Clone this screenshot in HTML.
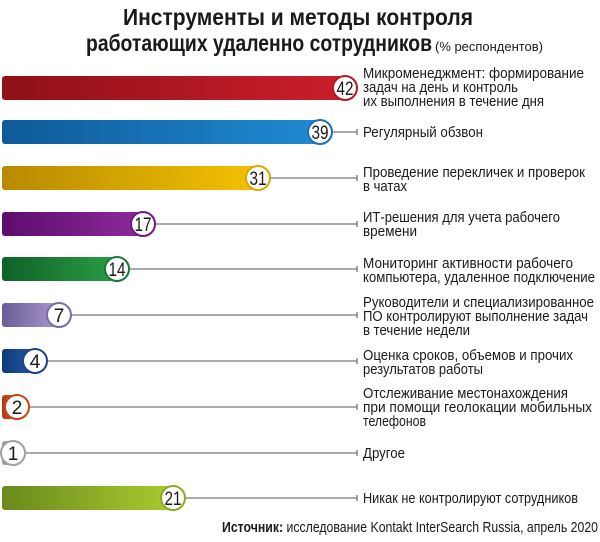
<!DOCTYPE html>
<html><head><meta charset="utf-8"><style>
html,body{margin:0;padding:0;background:#fff;}
svg{display:block;}
text{font-family:"Liberation Sans Narrow","Liberation Sans","DejaVu Sans Condensed",sans-serif;fill:#1a1a1a;}
.t{font-weight:bold;font-size:23px;}
.l{font-size:15px;}
.n{font-size:19px;text-anchor:middle;}
</style></head><body>
<svg width="600" height="542" viewBox="0 0 600 542" xmlns="http://www.w3.org/2000/svg">
<defs>
<linearGradient id="g1"><stop offset="0" stop-color="#8e1018"/><stop offset="1" stop-color="#cc1e2a"/></linearGradient>
<linearGradient id="g2"><stop offset="0" stop-color="#0f5a98"/><stop offset="1" stop-color="#1f8ad2"/></linearGradient>
<linearGradient id="g3"><stop offset="0" stop-color="#b88a00"/><stop offset="1" stop-color="#f2c200"/></linearGradient>
<linearGradient id="g4"><stop offset="0" stop-color="#5e0c6e"/><stop offset="1" stop-color="#8c2a9a"/></linearGradient>
<linearGradient id="g5"><stop offset="0" stop-color="#0e6228"/><stop offset="1" stop-color="#2b9c44"/></linearGradient>
<linearGradient id="g6"><stop offset="0" stop-color="#6a5c98"/><stop offset="1" stop-color="#a898cc"/></linearGradient>
<linearGradient id="g7"><stop offset="0" stop-color="#0e3a7a"/><stop offset="1" stop-color="#2458a8"/></linearGradient>
<linearGradient id="g8"><stop offset="0" stop-color="#b83810"/><stop offset="1" stop-color="#e05020"/></linearGradient>
<linearGradient id="g9"><stop offset="0" stop-color="#909090"/><stop offset="1" stop-color="#c8c8c8"/></linearGradient>
<linearGradient id="g10"><stop offset="0" stop-color="#6a8a1c"/><stop offset="1" stop-color="#aacb30"/></linearGradient>
</defs>

<text class="t" x="123" y="25" textLength="350" lengthAdjust="spacingAndGlyphs">Инструменты и методы контроля</text>
<text class="t" x="86" y="51" textLength="346" lengthAdjust="spacingAndGlyphs">работающих удаленно сотрудников</text>
<text x="435" y="51" style="font-size:13px" textLength="108" lengthAdjust="spacingAndGlyphs">(% респондентов)</text>

<g stroke="#777" stroke-width="1.3">
<line x1="332" y1="132" x2="357" y2="132"/><line x1="357" y1="129" x2="357" y2="135"/>
<line x1="270" y1="178" x2="357" y2="178"/><line x1="357" y1="175" x2="357" y2="181"/>
<line x1="155" y1="224" x2="357" y2="224"/><line x1="357" y1="221" x2="357" y2="227"/>
<line x1="129" y1="269" x2="357" y2="269"/><line x1="357" y1="266" x2="357" y2="272"/>
<line x1="71" y1="315" x2="357" y2="315"/><line x1="357" y1="312" x2="357" y2="318"/>
<line x1="47" y1="361" x2="357" y2="361"/><line x1="357" y1="358" x2="357" y2="364"/>
<line x1="29" y1="407" x2="357" y2="407"/><line x1="357" y1="404" x2="357" y2="410"/>
<line x1="25" y1="453" x2="357" y2="453"/><line x1="357" y1="450" x2="357" y2="456"/>
<line x1="185" y1="498" x2="357" y2="498"/><line x1="357" y1="495" x2="357" y2="501"/>
</g>

<rect x="2" y="76" width="343" height="24" rx="3" fill="url(#g1)"/>
<rect x="2" y="120" width="318" height="24" rx="3" fill="url(#g2)"/>
<rect x="2" y="166" width="256" height="24" rx="3" fill="url(#g3)"/>
<rect x="2" y="212" width="141" height="24" rx="3" fill="url(#g4)"/>
<rect x="2" y="257" width="115" height="24" rx="3" fill="url(#g5)"/>
<rect x="2" y="303" width="57" height="24" rx="3" fill="url(#g6)"/>
<rect x="2" y="349" width="33" height="24" rx="3" fill="url(#g7)"/>
<rect x="2" y="395" width="15" height="24" rx="3" fill="url(#g8)"/>
<rect x="2" y="441" width="11" height="24" rx="3" fill="url(#g9)"/>
<rect x="2" y="486" width="173" height="24" rx="3" fill="url(#g10)"/>

<g fill="#fff" stroke-width="2">
<circle cx="345" cy="88" r="12" stroke="#b01822"/>
<circle cx="320" cy="132" r="12" stroke="#1a70b8"/>
<circle cx="258" cy="178" r="12" stroke="#d8a800"/>
<circle cx="143" cy="224" r="12" stroke="#6e1a80"/>
<circle cx="117" cy="269" r="12" stroke="#1a7a34"/>
<circle cx="59" cy="315" r="12" stroke="#7a6aa8"/>
<circle cx="35" cy="361" r="12" stroke="#1a4488"/>
<circle cx="17" cy="407" r="12" stroke="#c84418"/>
<circle cx="13" cy="453" r="12" stroke="#a0a0a0"/>
<circle cx="173" cy="498" r="12" stroke="#8aaa22"/>
</g>
<text class="n" x="345" y="95" textLength="17" lengthAdjust="spacingAndGlyphs">42</text>
<text class="n" x="320" y="139" textLength="17" lengthAdjust="spacingAndGlyphs">39</text>
<text class="n" x="258" y="185" textLength="17" lengthAdjust="spacingAndGlyphs">31</text>
<text class="n" x="143" y="231" textLength="17" lengthAdjust="spacingAndGlyphs">17</text>
<text class="n" x="117" y="276" textLength="17" lengthAdjust="spacingAndGlyphs">14</text>
<text class="n" x="59" y="322">7</text>
<text class="n" x="35" y="368">4</text>
<text class="n" x="17" y="414">2</text>
<text class="n" x="13" y="460">1</text>
<text class="n" x="173" y="505" textLength="17" lengthAdjust="spacingAndGlyphs">21</text>

<g>
<text class="l" x="363" y="78" textLength="221" lengthAdjust="spacingAndGlyphs">Микроменеджмент: формирование</text>
<text class="l" x="363" y="92" textLength="155" lengthAdjust="spacingAndGlyphs">задач на день и контроль</text>
<text class="l" x="363" y="106" textLength="181" lengthAdjust="spacingAndGlyphs">их выполнения в течение дня</text>
<text class="l" x="363" y="137" textLength="120" lengthAdjust="spacingAndGlyphs">Регулярный обзвон</text>
<text class="l" x="363" y="177" textLength="222" lengthAdjust="spacingAndGlyphs">Проведение перекличек и проверок</text>
<text class="l" x="363" y="191" textLength="44" lengthAdjust="spacingAndGlyphs">в чатах</text>
<text class="l" x="363" y="222" textLength="197" lengthAdjust="spacingAndGlyphs">ИТ-решения для учета рабочего</text>
<text class="l" x="363" y="236" textLength="54" lengthAdjust="spacingAndGlyphs">времени</text>
<text class="l" x="363" y="268" textLength="210" lengthAdjust="spacingAndGlyphs">Мониторинг активности рабочего</text>
<text class="l" x="363" y="282" textLength="232" lengthAdjust="spacingAndGlyphs">компьютера, удаленное подключение</text>
<text class="l" x="363" y="307" textLength="231" lengthAdjust="spacingAndGlyphs">Руководители и специализированное</text>
<text class="l" x="363" y="321" textLength="225" lengthAdjust="spacingAndGlyphs">ПО контролируют выполнение задач</text>
<text class="l" x="363" y="335" textLength="107" lengthAdjust="spacingAndGlyphs">в течение недели</text>
<text class="l" x="363" y="360" textLength="210" lengthAdjust="spacingAndGlyphs">Оценка сроков, объемов и прочих</text>
<text class="l" x="363" y="374" textLength="120" lengthAdjust="spacingAndGlyphs">результатов работы</text>
<text class="l" x="363" y="398" textLength="205" lengthAdjust="spacingAndGlyphs">Отслеживание местонахождения</text>
<text class="l" x="363" y="412" textLength="229" lengthAdjust="spacingAndGlyphs">при помощи геолокации мобильных</text>
<text class="l" x="363" y="426" textLength="63" lengthAdjust="spacingAndGlyphs">телефонов</text>
<text class="l" x="363" y="458" textLength="42" lengthAdjust="spacingAndGlyphs">Другое</text>
<text class="l" x="363" y="503" textLength="215" lengthAdjust="spacingAndGlyphs">Никак не контролируют сотрудников</text>
</g>

<text x="222" y="532" style="font-size:15px" textLength="376" lengthAdjust="spacingAndGlyphs"><tspan font-weight="bold">Источник:</tspan> исследование Kontakt InterSearch Russia, апрель 2020</text>
</svg>
</body></html>
